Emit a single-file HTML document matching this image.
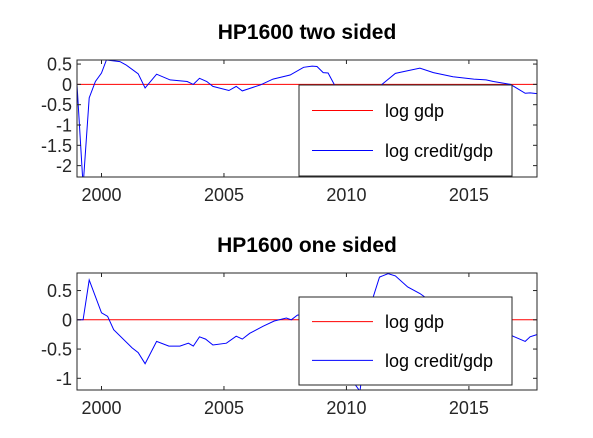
<!DOCTYPE html>
<html><head><meta charset="utf-8"><style>
body{margin:0;background:#fff}
svg{display:block;font-family:"Liberation Sans",sans-serif}
</style></head><body>
<svg id="c" width="593" height="438"></svg>
<script>
const topDates=[1999.0,1999.25,1999.5,1999.75,2000.0,2000.2,2000.75,2001.0,2001.5,2001.78,2002.25,2002.8,2003.5,2003.75,2004.0,2004.3,2004.55,2005.2,2005.5,2005.75,2006.5,2007.0,2007.7,2008.25,2008.6,2008.8,2009.05,2009.25,2009.5,2010.0,2010.5,2011.0,2011.45,2012.0,2012.45,2013.0,2013.55,2014.35,2015.2,2015.7,2016.0,2016.7,2017.3,2017.5,2017.8];
const topValues=[0,-2.5,-0.33,0.07,0.28,0.6,0.56,0.48,0.26,-0.09,0.25,0.11,0.07,0,0.15,0.07,-0.05,-0.15,-0.05,-0.16,-0.01,0.13,0.23,0.42,0.45,0.44,0.29,0.28,0,-0.4,-0.4,-0.2,0,0.27,0.33,0.4,0.29,0.19,0.13,0.11,0.07,0,-0.22,-0.21,-0.23];
const botDates=[1999.0,1999.25,1999.5,2000.0,2000.25,2000.5,2001.25,2001.5,2001.78,2002.25,2002.75,2003.2,2003.55,2003.75,2004.0,2004.25,2004.55,2005.1,2005.5,2005.75,2006.05,2006.6,2007.05,2007.55,2007.75,2008.0,2008.5,2009.0,2009.5,2010.0,2010.55,2010.9,2011.1,2011.35,2011.7,2012.0,2012.5,2013.0,2013.5,2014.5,2015.5,2016.5,2016.8,2017.3,2017.5,2017.8];
const botValues=[0,0,0.68,0.12,0.06,-0.17,-0.48,-0.56,-0.75,-0.37,-0.45,-0.45,-0.4,-0.45,-0.29,-0.33,-0.43,-0.4,-0.28,-0.33,-0.23,-0.11,-0.02,0.03,0,0.08,0.1,-0.3,-0.8,-0.9,-1.22,-0.2,0.4,0.73,0.79,0.75,0.56,0.45,0.3,0.05,-0.1,-0.2,-0.28,-0.37,-0.29,-0.25];
const xTicks=[2000,2005,2010,2015];
const topYTicks=[0.5,0,-0.5,-1,-1.5,-2];
const topYLabels=["0.5","0","-0.5","-1","-1.5","-2"];
const botYTicks=[0.5,0,-0.5,-1];
const botYLabels=["0.5","0","-0.5","-1"];
const legendLabels=["log gdp","log credit/gdp"];

const NS="http://www.w3.org/2000/svg";
const svg=document.getElementById('c');
function mk(t,a,p){const e=document.createElementNS(NS,t);for(const k in a)e.setAttribute(k,a[k]);(p||svg).appendChild(e);return e;}

function panel(id,title,top,bottom,ymin,ymax,yt,yl,dates,vals,leg){
  const L=77,R=537,x0=1999.0,x1=2017.78;
  const X=d=>L+(d-x0)/(x1-x0)*(R-L);
  const Y=v=>bottom-(v-ymin)/(ymax-ymin)*(bottom-top);
  const g=mk('g',{});
  
  
  const t=mk('text',{x:307,y:top-21,'text-anchor':'middle','font-size':21,'font-weight':'bold',fill:'#000'},g);
  t.textContent=title;
  
  
  const cp=mk('clipPath',{id:'cp'+id},g);
  mk('rect',{x:L,y:top,width:R-L,height:bottom-top},cp);
  const z=mk('line',{x1:L,x2:R,y1:Y(0),y2:Y(0),stroke:'#ff0000','stroke-width':1},g);
  
  
  const pts=dates.map((d,i)=>X(d).toFixed(1)+','+Y(vals[i]).toFixed(1)).join(' ');
  const pl=mk('polyline',{points:pts,fill:'none',stroke:'#0000ff','stroke-width':1,'clip-path':'url(#cp'+id+')'},g);
  
  
  mk('rect',{x:L,y:top,width:R-L,height:bottom-top,fill:'none',stroke:'#262626','stroke-width':1},g);
  xTicks.forEach(v=>{
    const x=X(v);
    mk('line',{x1:x,x2:x,y1:bottom,y2:bottom-4,stroke:'#262626'},g);
    mk('line',{x1:x,x2:x,y1:top,y2:top+4,stroke:'#262626'},g);
    const tx=mk('text',{x:x,y:bottom+24,'text-anchor':'middle','font-size':18,fill:'#262626'},g);
    tx.textContent=v;
    
    
  });
  yt.forEach((v,i)=>{
    const y=Y(v);
    mk('line',{x1:L,x2:L+4,y1:y,y2:y,stroke:'#262626'},g);
    mk('line',{x1:R,x2:R-4,y1:y,y2:y,stroke:'#262626'},g);
    const ty=mk('text',{x:L-5,y:y+6.5,'text-anchor':'end','font-size':18,fill:'#262626'},g);
    ty.textContent=yl[i];
    
    
  });
  const lg=mk('g',{},g);
  
  
  mk('rect',{x:299,y:leg[0],width:213,height:leg[1]-leg[0],fill:'#fff',stroke:'#262626'},lg);
  const rows=[leg[0]+(leg[1]-leg[0])*0.28,leg[0]+(leg[1]-leg[0])*0.72];
  const cols=['#ff0000','#0000ff'];
  rows.forEach((ry,i)=>{
    mk('line',{x1:312,x2:373,y1:ry,y2:ry,stroke:cols[i]},lg);
    const lt=mk('text',{x:385,y:ry+6.5,'font-size':18,fill:'#000'},lg);
    lt.textContent=legendLabels[i];
    
    
  });
}
panel('top','HP1600 two sided',60,177,-2.28,0.6,topYTicks,topYLabels,topDates,topValues,[85,176]);
panel('bottom','HP1600 one sided',273,390,-1.2,0.8,botYTicks,botYLabels,botDates,botValues,[297,385]);
</script>
</body></html>
